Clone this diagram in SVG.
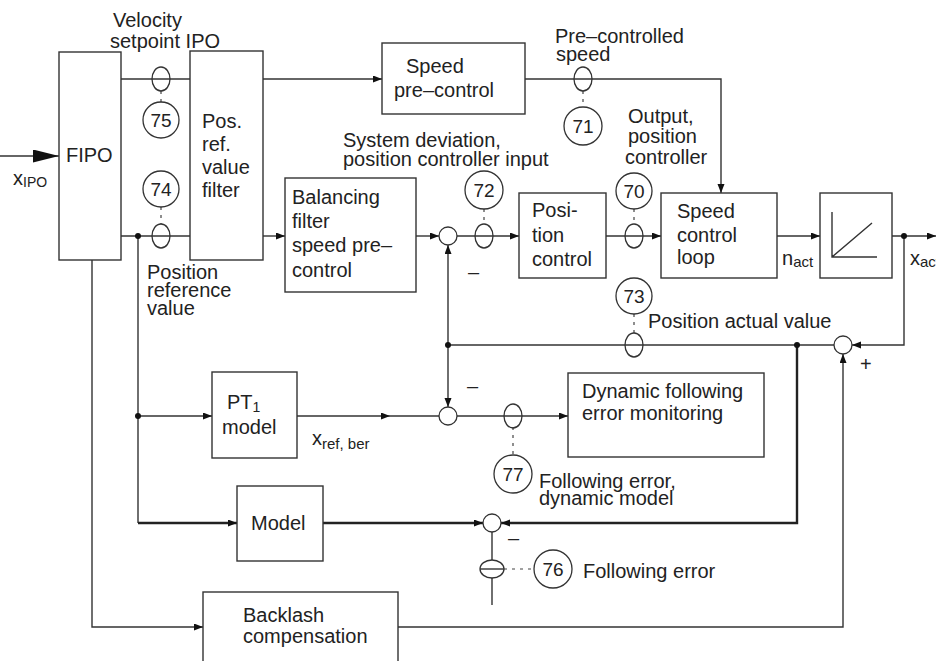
<svg xmlns="http://www.w3.org/2000/svg" width="936" height="661" viewBox="0 0 936 661">
<defs>
<marker id="ah" markerUnits="userSpaceOnUse" markerWidth="10" markerHeight="8" refX="9" refY="3.5" orient="auto"><path d="M0,0 L9,3.5 L0,7 z" fill="#111"/></marker>
<marker id="big" markerUnits="userSpaceOnUse" markerWidth="28" markerHeight="14" refX="26" refY="6.5" orient="auto"><path d="M0,0 L26,6.5 L0,13 z" fill="#111"/></marker>
</defs>
<style>
.t{font-family:"Liberation Sans",Arial,Helvetica,sans-serif;font-size:20px;fill:#222}
.s{font-size:14px}
.n{font-family:"Liberation Sans",Arial,Helvetica,sans-serif;font-size:19px;fill:#222;text-anchor:middle}
.box{fill:#fff;stroke:#333;stroke-width:1.4}
.c{fill:#fff;stroke:#333;stroke-width:1.3}
.e{fill:none;stroke:#333;stroke-width:1.3}
.w{fill:none;stroke:#333;stroke-width:1.4}
.k{fill:none;stroke:#222;stroke-width:2.4}
.d{fill:none;stroke:#444;stroke-width:1.2;stroke-dasharray:3 5}
.dot{fill:#111}
</style>
<rect width="936" height="661" fill="#fff"/>

<g id="connectors">
<path class="w" d="M0,156 H59" marker-end="url(#big)"/>
<path class="w" d="M121,79 H190"/>
<path class="w" d="M263,79 H382" marker-end="url(#ah)"/>
<path class="w" d="M525,79 H721 V193" marker-end="url(#ah)"/>
<path class="w" d="M121,236 H190"/>
<path class="w" d="M263,236 H285" marker-end="url(#ah)"/>
<path class="w" d="M416,236 H439" marker-end="url(#ah)"/>
<path class="w" d="M457,236 H519" marker-end="url(#ah)"/>
<path class="w" d="M606,236 H661" marker-end="url(#ah)"/>
<path class="w" d="M777,236 H820" marker-end="url(#ah)"/>
<path class="w" d="M892,236 H936" marker-end="url(#ah)"/>
<path class="w" d="M904,236 V345 H852" marker-end="url(#ah)"/>
<path class="w" d="M834,345 H448"/>
<path class="w" d="M448,345 V245" marker-end="url(#ah)"/>
<path class="w" d="M448,345 V407" marker-end="url(#ah)"/>
<path class="k" d="M797,345 V523 H501" marker-end="url(#ah)"/>
<path class="w" d="M92,260 V627 H203" marker-end="url(#ah)"/>
<path class="w" d="M398,627 H843 V354" marker-end="url(#ah)"/>
<path class="w" d="M138,236 V523"/>
<path class="k" d="M138,523 H237" marker-end="url(#ah)"/>
<path class="w" d="M138,416 H212" marker-end="url(#ah)"/>
<path class="w" d="M297,416 H390" marker-end="url(#ah)"/>
<path class="w" d="M390,416 H439"/>
<path class="w" d="M457,416 H568" marker-end="url(#ah)"/>
<path class="k" d="M323,523 H483" marker-end="url(#ah)"/>
<path class="w" d="M492,532 V605"/>
<path class="d" d="M161,91 V102"/>
<path class="d" d="M161,207 V224"/>
<path class="d" d="M583,91 V107"/>
<path class="d" d="M484,209 V224"/>
<path class="d" d="M634,209 V224"/>
<path class="d" d="M634,314 V333"/>
<path class="d" d="M513,427 V455"/>
<path class="d" d="M504,569 H534"/>
<circle class="dot" cx="138" cy="236" r="3"/>
<circle class="dot" cx="904" cy="236" r="3"/>
<circle class="dot" cx="448" cy="345" r="3"/>
<circle class="dot" cx="797" cy="345" r="3"/>
<circle class="dot" cx="138" cy="416" r="3"/>
</g>

<g id="input-label"><text class="t" x="13" y="185">x<tspan class="s" dy="2">IPO</tspan></text></g>

<g id="fipo"><rect class="box" x="59" y="52" width="62" height="208"/><text class="t" x="66" y="162">FIPO</text></g>

<g id="velocity-label"><text class="t"><tspan x="113" y="27">Velocity</tspan><tspan x="110" y="48">setpoint IPO</tspan></text></g>

<g id="mp75"><ellipse class="e" cx="161" cy="79" rx="9" ry="12"/><circle class="c" cx="161" cy="120" r="18"/><text class="n" x="161" y="127">75</text></g>
<g id="mp74"><ellipse class="e" cx="161" cy="236" rx="9" ry="12"/><circle class="c" cx="161" cy="189" r="18"/><text class="n" x="161" y="196">74</text></g>

<g id="pos-ref-label"><text class="t"><tspan x="147" y="279">Position</tspan><tspan x="147" y="297">reference</tspan><tspan x="147" y="315">value</tspan></text></g>

<g id="pos-ref-filter"><rect class="box" x="190" y="51" width="73" height="209"/><text class="t"><tspan x="202" y="128">Pos.</tspan><tspan x="202" y="151">ref.</tspan><tspan x="202" y="174">value</tspan><tspan x="202" y="197">filter</tspan></text></g>

<g id="speed-precontrol"><rect class="box" x="382" y="43" width="143" height="71"/><text class="t"><tspan x="406" y="73">Speed</tspan><tspan x="394" y="97">pre–control</tspan></text></g>

<g id="precontrolled-label"><text class="t"><tspan x="555" y="43">Pre–controlled</tspan><tspan x="556" y="61">speed</tspan></text></g>
<g id="mp71"><ellipse class="e" cx="583" cy="79" rx="9" ry="12"/><circle class="c" cx="583" cy="126" r="19"/><text class="n" x="583" y="133">71</text></g>

<g id="sysdev-label"><text class="t"><tspan x="343" y="147">System deviation,</tspan><tspan x="343" y="166">position controller input</tspan></text></g>

<g id="balancing-filter"><rect class="box" x="285" y="178" width="131" height="114"/><text class="t"><tspan x="292" y="204">Balancing</tspan><tspan x="292" y="228">filter</tspan><tspan x="292" y="252">speed pre–</tspan><tspan x="292" y="277">control</tspan></text></g>

<g id="sum1"><circle class="c" cx="448" cy="236" r="9"/><text class="t" x="468" y="279">–</text></g>
<g id="mp72"><ellipse class="e" cx="484" cy="236" rx="9" ry="12"/><circle class="c" cx="484" cy="190" r="19"/><text class="n" x="484" y="197">72</text></g>

<g id="position-control"><rect class="box" x="519" y="193" width="87" height="85"/><text class="t"><tspan x="532" y="217">Posi-</tspan><tspan x="532" y="242">tion</tspan><tspan x="532" y="266">control</tspan></text></g>

<g id="output-label"><text class="t"><tspan x="628" y="123">Output,</tspan><tspan x="628" y="143">position</tspan><tspan x="625" y="164">controller</tspan></text></g>
<g id="mp70"><ellipse class="e" cx="634" cy="236" rx="9" ry="12"/><circle class="c" cx="634" cy="191" r="18"/><text class="n" x="634" y="198">70</text></g>

<g id="speed-control-loop"><rect class="box" x="661" y="193" width="116" height="85"/><text class="t"><tspan x="677" y="218">Speed</tspan><tspan x="677" y="242">control</tspan><tspan x="677" y="264">loop</tspan></text></g>

<g id="nact-label"><text class="t" x="782" y="265">n<tspan class="s" dy="2" style="font-size:15px">act</tspan></text></g>

<g id="integrator"><rect class="box" x="820" y="193" width="72" height="85"/><path class="w" d="M832,212 V257 H877 M832,257 L872,223"/></g>

<g id="xact-label"><text class="t" x="910" y="265">x<tspan class="s" dy="2" style="font-size:15px">act</tspan></text></g>

<g id="mp73"><ellipse class="e" cx="634" cy="345" rx="9" ry="12"/><circle class="c" cx="634" cy="296" r="18"/><text class="n" x="634" y="303">73</text><text class="t" x="648" y="328">Position actual value</text></g>

<g id="sum2"><circle class="c" cx="843" cy="345" r="9"/><text class="t" x="860" y="371">+</text></g>

<g id="pt1-model"><rect class="box" x="212" y="372" width="85" height="86"/><text class="t"><tspan x="227" y="409">PT<tspan class="s" dy="3">1</tspan></tspan><tspan x="222" y="434">model</tspan></text></g>

<g id="xref-label"><text class="t" x="312" y="445">x<tspan class="s" dy="4" style="font-size:15px">ref, ber</tspan></text></g>

<g id="sum3"><circle class="c" cx="448" cy="416" r="9"/><text class="t" x="467" y="393">–</text></g>
<g id="mp77"><ellipse class="e" cx="513" cy="416" rx="9" ry="12"/><circle class="c" cx="513" cy="474" r="19"/><text class="n" x="513" y="481">77</text><text class="t"><tspan x="539" y="488">Following error,</tspan><tspan x="539" y="505">dynamic model</tspan></text></g>

<g id="dynamic-monitoring"><rect class="box" x="568" y="373" width="196" height="84"/><text class="t"><tspan x="582" y="398">Dynamic following</tspan><tspan x="582" y="420">error monitoring</tspan></text></g>

<g id="model"><rect class="box" x="237" y="486" width="86" height="75"/><text class="t" x="251" y="530">Model</text></g>

<g id="sum4"><circle class="c" cx="492" cy="523" r="9"/><text class="t" x="508" y="545">–</text></g>
<g id="mp76"><ellipse class="c" cx="492" cy="569" rx="12" ry="9"/><path class="w" d="M480,569 H504"/><circle class="c" cx="553" cy="569" r="19"/><text class="n" x="553" y="576">76</text><text class="t" x="583" y="578">Following error</text></g>

<g id="backlash"><rect class="box" x="203" y="592" width="195" height="80"/><text class="t"><tspan x="243" y="622">Backlash</tspan><tspan x="243" y="643">compensation</tspan></text></g>
</svg>
